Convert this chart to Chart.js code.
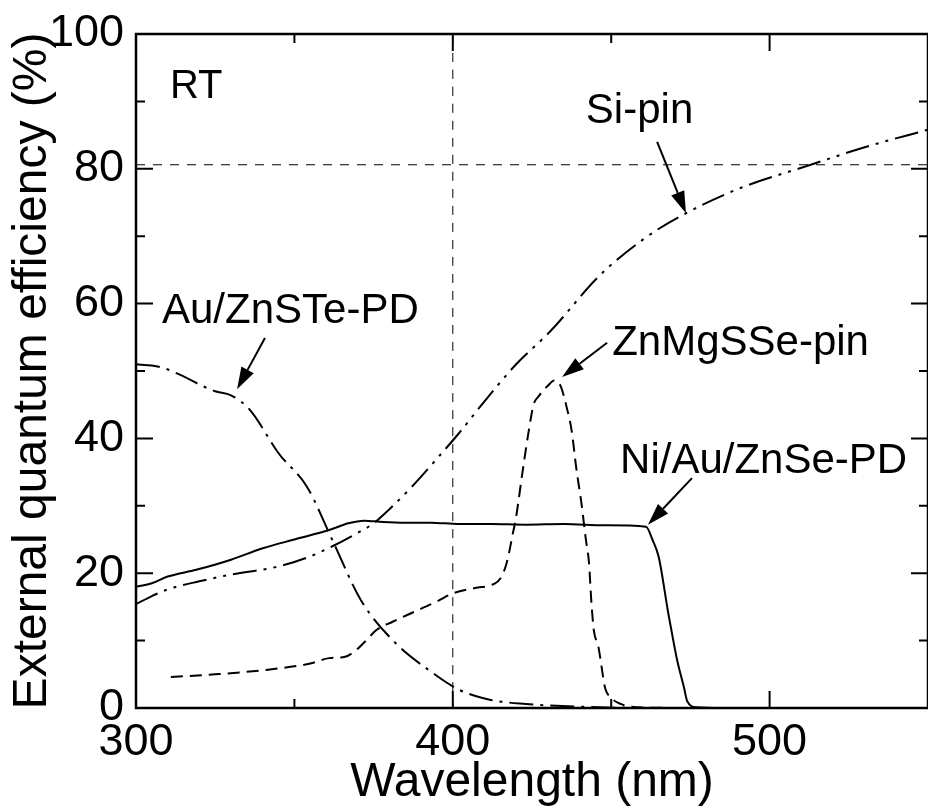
<!DOCTYPE html>
<html lang="en">
<head>
<meta charset="UTF-8">
<title>External quantum efficiency</title>
<script src="https://cdn.jsdelivr.net/npm/chart.js@4.4.1/dist/chart.umd.min.js"></script>
<style>
    body { margin: 0; background: #fff; }
    #wrap { width: 928px; height: 812px; }
</style>
</head>
<body>
<div id="wrap"><canvas id="eqe" width="928" height="812"></canvas></div>
<script>
// curves (wavelength nm, EQE %)
const siPinX = [300, 305, 310, 320, 330, 345, 355, 362, 370, 375, 380, 387, 395, 402, 410, 420, 431, 446, 460, 472, 490, 513, 530, 550];
const siPinY = [15.4, 16.6, 17.6, 18.8, 19.8, 21.0, 22.5, 24.0, 26.0, 27.4, 29.5, 32.8, 37.0, 40.8, 45.5, 51.0, 56.0, 64.0, 69.5, 73.0, 77.0, 80.6, 83.2, 85.8];

const auX = [300, 305, 309, 315, 320, 325, 330, 336, 345, 354, 362, 371, 382, 392.5, 402, 412, 423, 440, 460, 500];
const auY = [51.0, 50.8, 50.4, 49.2, 48.0, 47.0, 46.4, 44.2, 37.8, 32.8, 24.9, 16.0, 9.6, 5.6, 2.7, 1.2, 0.6, 0.2, 0, 0];

const niX = [300, 305, 310, 319, 330, 340, 350, 361, 367, 372, 378, 385, 393, 402, 412, 423, 435, 448, 461, 463, 465, 468, 470, 471, 473, 474, 477, 485, 550];
const niY = [18.0, 18.5, 19.5, 20.5, 22.0, 23.7, 25.0, 26.4, 27.4, 27.8, 27.6, 27.5, 27.5, 27.3, 27.3, 27.2, 27.3, 27.1, 26.9, 25.0, 22.4, 14.1, 9.0, 6.7, 3.0, 1.0, 0.1, 0, 0];

const znX = [311, 325, 340, 355, 361, 366, 370, 373, 376, 381, 387, 395, 400, 407, 413, 415, 417, 419, 420, 422, 424, 425.5, 427, 430, 432, 434, 436, 437.5, 439, 440.6, 442, 443, 443.7, 444.5, 446, 447, 448, 450, 453, 456, 470];
const znY = [4.6, 5.0, 5.6, 6.6, 7.4, 7.6, 8.8, 10.2, 11.6, 12.8, 14.1, 15.8, 17.0, 17.8, 18.4, 19.2, 21.5, 26.0, 28.4, 35.0, 41.2, 45.0, 46.2, 47.8, 48.6, 47.8, 44.5, 41.2, 35.5, 30.4, 25.0, 21.5, 16.0, 11.6, 9.0, 6.0, 3.1, 1.5, 0.6, 0.2, 0];

// thin dashed guide lines
const guideVX = [400, 400];
const guideVY = [0, 100];
const guideHX = [300, 550];
const guideHY = [80.6, 80.6];

const xMajorTicks = [300, 400, 500];
const xMinorTicks = [350, 450, 550];
const yMajorTicks = [0, 20, 40, 60, 80, 100];
const yMinorTicks = [10, 30, 50, 70, 90];

// text notes and arrows, in data coordinates
const notes = [
    { text: 'RT', x: 310.7, y: 90.5, size: 40 },
    { text: 'Si-pin', x: 442.0, y: 86.8, size: 42 },
    { text: 'Au/ZnSTe-PD', x: 308.2, y: 57.1, size: 42 },
    { text: 'ZnMgSSe-pin', x: 450.3, y: 52.4, size: 42 },
    { text: 'Ni/Au/ZnSe-PD', x: 452.8, y: 34.9, size: 42 }
];
const arrows = [
    { from: [464.5, 84.0], to: [473.6, 73.4] },
    { from: [340.7, 54.9], to: [331.9, 47.3] },
    { from: [448.7, 54.2], to: [434.5, 49.1] },
    { from: [475.5, 34.1], to: [461.6, 27.2] }
];

const FONT = "'Liberation Sans', Arial, Helvetica, sans-serif";
const pts = (xs, ys) => xs.map((v, i) => ({ x: v, y: ys[i] }));

function curve(label, xs, ys, dash, width) {
    return {
        label: label,
        data: pts(xs, ys),
        borderColor: '#000',
        borderWidth: width,
        borderDash: dash,
        borderCapStyle: 'butt',
        pointRadius: 0,
        showLine: true,
        fill: false,
        cubicInterpolationMode: 'monotone'
    };
}

// frame, inward ticks, labels and arrows
const decor = {
    id: 'decor',
    afterDatasetsDraw(chart) {
        const { ctx, chartArea: a, scales: { x, y } } = chart;
        ctx.save();
        ctx.strokeStyle = '#000';
        ctx.fillStyle = '#000';
        ctx.setLineDash([]);
        ctx.lineWidth = 2.5;
        ctx.strokeRect(a.left, a.top, a.right - a.left, a.bottom - a.top);

        ctx.lineWidth = 2;
        ctx.beginPath();
        const xTick = (v, len) => {
            const p = x.getPixelForValue(v);
            ctx.moveTo(p, a.bottom); ctx.lineTo(p, a.bottom - len);
            ctx.moveTo(p, a.top); ctx.lineTo(p, a.top + len);
        };
        const yTick = (v, len) => {
            const p = y.getPixelForValue(v);
            ctx.moveTo(a.left, p); ctx.lineTo(a.left + len, p);
            ctx.moveTo(a.right, p); ctx.lineTo(a.right - len, p);
        };
        xMajorTicks.forEach(v => xTick(v, 17));
        xMinorTicks.forEach(v => xTick(v, 9));
        yMajorTicks.forEach(v => yTick(v, 17));
        yMinorTicks.forEach(v => yTick(v, 9));
        ctx.stroke();

        ctx.textAlign = 'left';
        ctx.textBaseline = 'alphabetic';
        notes.forEach(n => {
            ctx.font = n.size + 'px ' + FONT;
            ctx.fillText(n.text, x.getPixelForValue(n.x), y.getPixelForValue(n.y));
        });

        arrows.forEach(ar => {
            const x0 = x.getPixelForValue(ar.from[0]), y0 = y.getPixelForValue(ar.from[1]);
            const x1 = x.getPixelForValue(ar.to[0]), y1 = y.getPixelForValue(ar.to[1]);
            const ang = Math.atan2(y1 - y0, x1 - x0);
            const headLen = 22, headW = 7;
            const bx = x1 - headLen * Math.cos(ang), by = y1 - headLen * Math.sin(ang);
            ctx.lineWidth = 2;
            ctx.beginPath();
            ctx.moveTo(x0, y0);
            ctx.lineTo(bx, by);
            ctx.stroke();
            ctx.beginPath();
            ctx.moveTo(x1, y1);
            ctx.lineTo(bx + headW * Math.sin(ang), by - headW * Math.cos(ang));
            ctx.lineTo(bx - headW * Math.sin(ang), by + headW * Math.cos(ang));
            ctx.closePath();
            ctx.fill();
        });
        ctx.restore();
    }
};

new Chart(document.getElementById('eqe'), {
    type: 'scatter',
    data: {
        datasets: [
            curve('Si-pin', siPinX, siPinY, [24, 7, 3, 7, 3, 7], 2),
            curve('Au/ZnSTe-PD', auX, auY, [24, 7, 3, 7], 2),
            curve('Ni/Au/ZnSe-PD', niX, niY, [], 2),
            curve('ZnMgSSe-pin', znX, znY, [12, 7], 2),
            curve('guide400', guideVX, guideVY, [9, 8], 1),
            curve('guide80', guideHX, guideHY, [9, 8], 1)
        ]
    },
    plugins: [decor],
    options: {
        responsive: false,
        animation: false,
        layout: { padding: { top: 34, right: 0, left: 0, bottom: 0 } },
        plugins: {
            legend: { display: false },
            tooltip: { enabled: false }
        },
        scales: {
            x: {
                type: 'linear',
                min: 300,
                max: 550,
                grid: { display: false },
                border: { display: false },
                afterBuildTicks: s => { s.ticks = xMajorTicks.map(v => ({ value: v })); },
                afterFit: s => { s.height = 104; },
                ticks: {
                    color: '#000',
                    padding: 0,
                    font: { family: FONT, size: 45 }
                },
                title: {
                    display: true,
                    text: 'Wavelength (nm)',
                    color: '#000',
                    padding: { top: 0, bottom: 0 },
                    font: { family: FONT, size: 48 }
                }
            },
            y: {
                min: 0,
                max: 100,
                grid: { display: false },
                border: { display: false },
                afterBuildTicks: s => { s.ticks = yMajorTicks.map(v => ({ value: v })); },
                afterFit: s => { s.width = 136; },
                ticks: {
                    color: '#000',
                    padding: 4,
                    font: { family: FONT, size: 45 }
                },
                title: {
                    display: true,
                    text: 'External quantum efficiency (%)',
                    color: '#000',
                    padding: { top: 4, bottom: 0 },
                    font: { family: FONT, size: 48 }
                }
            }
        }
    }
});
</script>
</body>
</html>
